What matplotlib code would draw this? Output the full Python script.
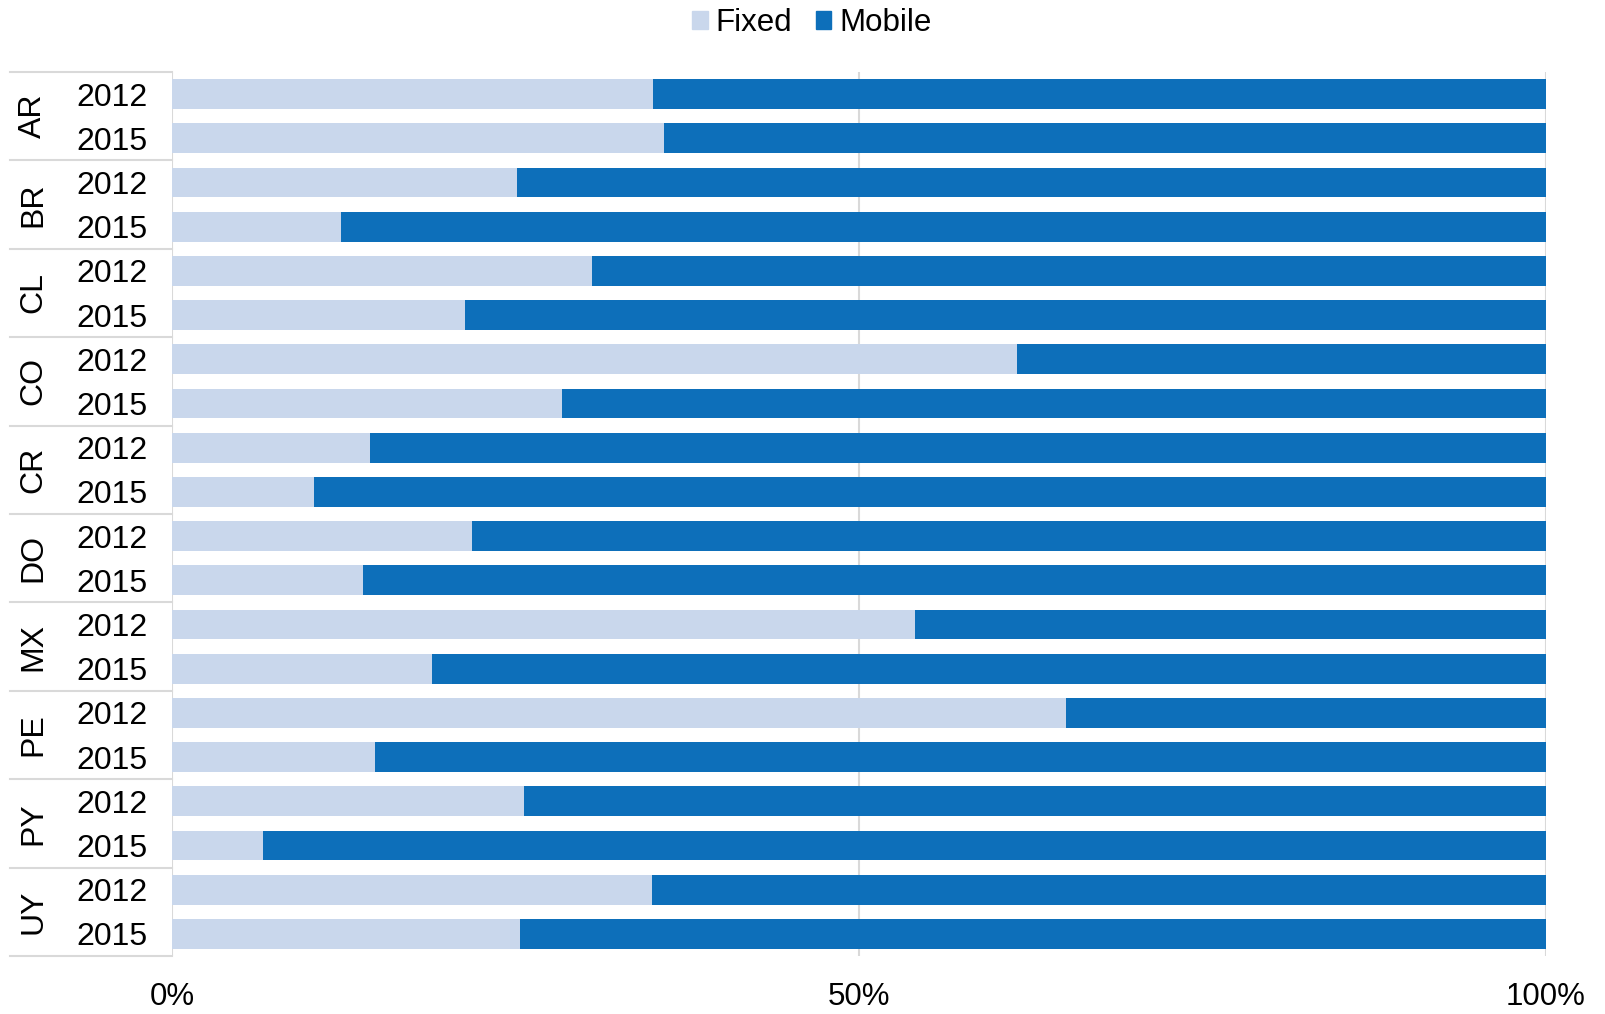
import matplotlib
matplotlib.use("Agg")
import matplotlib.pyplot as plt
from matplotlib.patches import Patch
from matplotlib.lines import Line2D
import matplotlib.transforms as mtransforms

plt.rcParams['font.family'] = ['Liberation Sans', 'DejaVu Sans']

countries = ["AR", "BR", "CL", "CO", "CR", "DO", "MX", "PE", "PY", "UY"]
years = ["2012", "2015"]
fixed = [35.0, 35.8, 25.1, 12.3, 30.6, 21.3, 61.5, 28.4, 14.4, 10.3,
         21.8, 13.9, 54.1, 18.9, 65.1, 14.8, 25.6, 6.6, 34.9, 25.3]
mobile = [100 - f for f in fixed]
xticks = [0, 50, 100]
xticklabels = ["0%", "50%", "100%"]

c_fixed = "#c9d7ec"
c_mobile = "#0d6fba"
grid_c = "#d9d9d9"

W, H = 1605, 1014
fig = plt.figure(figsize=(W / 100, H / 100), dpi=100)
left, right, top, bottom = 172, 1546, 72, 956
ax = fig.add_axes([left / W, 1 - bottom / H, (right - left) / W, (bottom - top) / H])

n = len(fixed)
ypos = list(range(n))
ax.barh(ypos, fixed, height=0.67, color=c_fixed, zorder=2)
ax.barh(ypos, mobile, left=fixed, height=0.67, color=c_mobile, zorder=2)
ax.set_ylim(n - 0.5, -0.5)
ax.set_xlim(0, 100)
for s in ax.spines.values():
    s.set_visible(False)
for xv in xticks:
    ax.axvline(xv, color=grid_c, lw=1.5, zorder=1)
ax.set_yticks([])
ax.set_xticks(xticks)
ax.set_xticklabels(xticklabels, fontsize=22.5)
ax.tick_params(axis='x', length=0, pad=19)

# left table labels
tr = mtransforms.blended_transform_factory(fig.transFigure, ax.transData)
for i in range(n):
    ax.text(112 / W, i + 0.08, years[i % 2], transform=tr, ha='center', va='center', fontsize=23)
for g, c in enumerate(countries):
    ax.text(33 / W, 2 * g + 0.5, c, transform=tr, ha='center', va='center',
            rotation=90, fontsize=23)
for g in range(len(countries) + 1):
    yv = 2 * g - 0.5
    ax.add_line(Line2D([10 / W, left / W], [yv, yv], transform=tr, color=grid_c,
                       lw=1.5, clip_on=False))

handles = [Patch(color=c_fixed, label="Fixed"), Patch(color=c_mobile, label="Mobile")]
fig.legend(handles=handles, loc='center', bbox_to_anchor=(812 / W, 1 - 23 / H),
           ncol=2, frameon=False, fontsize=22.5, handlelength=0.5, handleheight=0.5,
           handletextpad=0.25, columnspacing=0.75, borderpad=0)

fig.savefig("out.png", dpi=100)
